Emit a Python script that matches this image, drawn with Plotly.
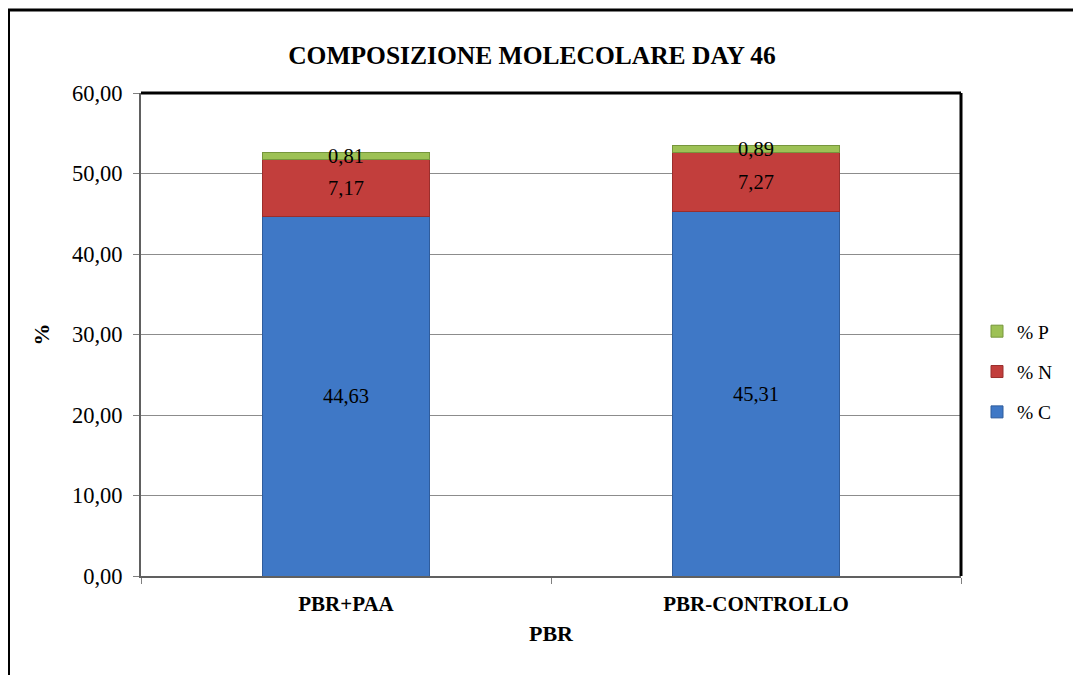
import plotly.graph_objects as go

categories = ["PBR+PAA", "PBR-CONTROLLO"]
pct_c = [44.63, 45.31]
pct_n = [7.17, 7.27]
pct_p = [0.81, 0.89]
series_names = ["% C", "% N", "% P"]
legend_ranks = [3, 2, 1]
colors = ["#3F78C6", "#C23E3C", "#9DC155"]
line_colors = ["#2F5C9C", "#9A2E2C", "#76963C"]
y_ticks = [0, 10, 20, 30, 40, 50, 60]

# page body has an 8px margin; work in screen coords minus 8
OFF = 8
W, H = 1081 - OFF, 675 - OFF
L, R, T, B = 141 - OFF, 961 - OFF, 93 - OFF, 576 - OFF
pw, ph = R - L, B - T

FONT = "Liberation Serif, Times New Roman, serif"

fig = go.Figure()
for name, vals, col, lc, rk in zip(series_names, [pct_c, pct_n, pct_p], colors, line_colors, legend_ranks):
    fig.add_trace(go.Bar(
        x=categories, y=vals, name=name, legendgroup=name, legendrank=rk,
        marker=dict(color=col, line=dict(color=lc, width=1)),
        texttemplate="%{y:.2f}", textposition="inside", insidetextanchor="middle",
        constraintext="none", cliponaxis=False,
        textfont=dict(family=FONT, size=20.5, color="black"),
    ))

fig.update_layout(
    width=W, height=H,
    margin=dict(l=L, r=W - R, t=T, b=H - B),
    barmode="stack", bargap=0.595,
    separators=", ",
    paper_bgcolor="white", plot_bgcolor="white",
    font=dict(family=FONT, size=20, color="black"),
    title=dict(text="<b>COMPOSIZIONE MOLECOLARE DAY 46</b>", x=(532 - OFF) / W, xanchor="center",
               y=1 - (55 - OFF) / H, yanchor="middle", font=dict(family=FONT, size=25.5, color="black")),
    legend=dict(x=(977 - OFF - L) / pw, xanchor="left", y=(B - (331 - OFF) + 19) / ph, yanchor="top",
                traceorder="grouped", tracegroupgap=12,
                font=dict(family=FONT, size=19.5, color="black"), bgcolor="rgba(0,0,0,0)"),
    showlegend=True,
)
fig.update_xaxes(
    type="category", tickson="boundaries", ticks="outside", ticklen=6, tickcolor="#808080",
    showline=True, linecolor="#606060", linewidth=2, showgrid=False,
    tickfont=dict(family=FONT, size=21, color="black"), ticklabelstandoff=8,
    tickprefix="<b>", ticksuffix="</b>",
    title=dict(text="<b>PBR</b>", font=dict(family=FONT, size=22, color="black"), standoff=10),
)
fig.update_yaxes(
    range=[0, 60], tickvals=y_ticks, tickformat=".2f", ticks="outside", ticklen=6,
    tickcolor="#808080", showline=True, linecolor="#606060", linewidth=2,
    showgrid=True, gridcolor="#8C8C8C", gridwidth=1, zeroline=False,
    tickfont=dict(family=FONT, size=22.5, color="black"), ticklabelstandoff=6,
    title=dict(text="<b>%</b>", font=dict(family=FONT, size=22, color="black"), standoff=16),
)

# plot area top/right black frame
fig.add_shape(type="line", xref="paper", yref="paper", x0=0, x1=1, y0=1, y1=1,
              line=dict(color="black", width=3))
fig.add_shape(type="line", xref="paper", yref="paper", x0=1, x1=1, y0=0, y1=1,
              line=dict(color="black", width=3))
# outer chart border (extends beyond window on right/bottom)
fig.add_shape(type="rect", xref="paper", yref="paper",
              x0=(8.5 - OFF - L) / pw, x1=(W + 20 - L) / pw,
              y0=(B - (H + 20)) / ph, y1=(B - (10 - OFF)) / ph,
              line=dict(color="black", width=3), layer="below")

fig.write_html("out.html")
